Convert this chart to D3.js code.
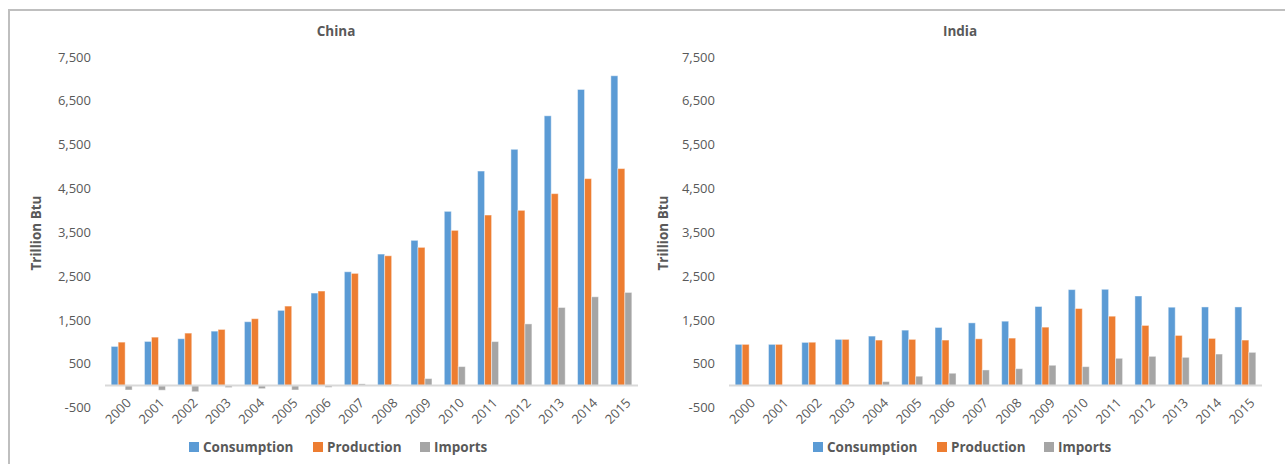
<!DOCTYPE html>
<html>
<head>
<meta charset="utf-8">
<script src="https://cdn.jsdelivr.net/npm/d3@7"></script>
<style>
  html, body { margin: 0; padding: 0; background: #fff; }
  svg { display: block; font-family: "Open Sans", sans-serif; }
</style>
</head>
<body>
<svg id="chart" width="1285" height="464"></svg>
<script>
const years = ["2000","2001","2002","2003","2004","2005","2006","2007","2008","2009","2010","2011","2012","2013","2014","2015"];
const seriesNames = ["Consumption", "Production", "Imports"];
const seriesColors = ["#5B9BD5", "#ED7D31", "#A5A5A5"];
const yTicks = [-500, 500, 1500, 2500, 3500, 4500, 5500, 6500, 7500];

const chinaConsumption = [894, 1008, 1070, 1243, 1458, 1717, 2112, 2598, 3002, 3315, 3977, 4897, 5393, 6158, 6759, 7072];
const chinaProduction  = [992, 1106, 1198, 1282, 1527, 1815, 2158, 2561, 2963, 3155, 3543, 3893, 4000, 4381, 4724, 4953];
const chinaImports     = [-100, -105, -140, -45, -70, -100, -40, 40, 25, 160, 434, 1005, 1408, 1783, 2027, 2126];

const indiaConsumption = [941, 941, 986, 1055, 1130, 1266, 1327, 1432, 1470, 1805, 2191, 2198, 2045, 1789, 1795, 1795];
const indiaProduction  = [941, 941, 990, 1055, 1039, 1055, 1039, 1068, 1084, 1334, 1759, 1584, 1373, 1145, 1077, 1039];
const indiaImports     = [0, 0, 0, 0, 91, 214, 282, 357, 386, 464, 432, 623, 668, 645, 720, 759];

const panels = [
  { title: "China", values: [chinaConsumption, chinaProduction, chinaImports], x0: 105, x1: 638, titleX: 336, axisTitleX: 36, legendX: 189 },
  { title: "India", values: [indiaConsumption, indiaProduction, indiaImports], x0: 729, x1: 1262, titleX: 960, axisTitleX: 663, legendX: 813 }
];

const svg = d3.select("#chart");
const textColor = "#595959";
const fmt = d3.format(",");
const tickFormat = d => fmt(d).replace("\u2212", "-");

// outer border
svg.append("rect")
  .attr("x", 9).attr("y", 10).attr("width", 1300).attr("height", 480)
  .attr("fill", "none").attr("stroke", "#bfbfbf").attr("stroke-width", 2);

const y = d3.scaleLinear().domain([-500, 7500]).range([407.5, 57]);

panels.forEach(p => {
  const g = svg.append("g");
  const x = d3.scaleBand().domain(years).range([p.x0, p.x1]).paddingInner(0.37).paddingOuter(0.185);
  const xs = d3.scaleBand().domain(seriesNames).range([0, x.bandwidth()]);

  // y axis labels
  const yAxis = d3.axisLeft(y).tickValues(yTicks).tickSize(0).tickPadding(14).tickFormat(tickFormat);
  const ya = g.append("g").attr("transform", `translate(${p.x0},0)`).call(yAxis);
  ya.select(".domain").remove();
  ya.selectAll("text").attr("fill", textColor).style("font-size", "13px").style("font-family", "'Open Sans', sans-serif");

  // bars
  seriesNames.forEach((s, si) => {
    g.append("g").selectAll("rect")
      .data(years.map((yr, i) => ({ yr, v: p.values[si][i] })))
      .join("rect")
      .attr("x", d => x(d.yr) + xs(s))
      .attr("width", xs.bandwidth())
      .attr("y", d => Math.min(y(d.v), y(0)))
      .attr("height", d => Math.abs(y(d.v) - y(0)))
      .attr("fill", seriesColors[si])
      .attr("stroke", "#ffffff").attr("stroke-opacity", 0.45).attr("stroke-width", 1);
  });

  // baseline
  g.append("line")
    .attr("x1", p.x0).attr("x2", p.x1).attr("y1", y(0)).attr("y2", y(0))
    .attr("stroke", "#d9d9d9").attr("stroke-width", 2);

  // x labels
  g.append("g").selectAll("text")
    .data(years).join("text")
    .attr("transform", d => `translate(${x(d) + x.bandwidth() / 2 + 7},${y(0) + 15}) rotate(-45)`)
    .attr("text-anchor", "end")
    .attr("dy", "0.35em")
    .attr("fill", textColor)
    .style("font-size", "13px")
    .text(d => d);

  // title
  g.append("text")
    .attr("x", p.titleX).attr("y", 31).attr("dy", "0.35em")
    .attr("text-anchor", "middle")
    .attr("fill", textColor)
    .style("font-size", "13.5px").style("font-weight", "bold")
    .text(p.title);

  // y axis title
  g.append("text")
    .attr("transform", `translate(${p.axisTitleX},233) rotate(-90)`)
    .attr("text-anchor", "middle").attr("dy", "0.35em")
    .attr("fill", textColor)
    .style("font-size", "13.5px").style("font-weight", "bold")
    .text("Trillion Btu");

  // legend
  const legendOffsets = [0, 124, 231];
  const lg = g.append("g").attr("transform", `translate(${p.legendX},442)`);
  seriesNames.forEach((s, si) => {
    lg.append("rect").attr("x", legendOffsets[si]).attr("y", 0).attr("width", 10).attr("height", 10).attr("fill", seriesColors[si]);
    lg.append("text").attr("x", legendOffsets[si] + 14).attr("y", 5).attr("dy", "0.35em")
      .attr("fill", textColor).style("font-size", "13.5px").style("font-weight", "bold")
      .text(s);
  });
});
</script>
</body>
</html>
